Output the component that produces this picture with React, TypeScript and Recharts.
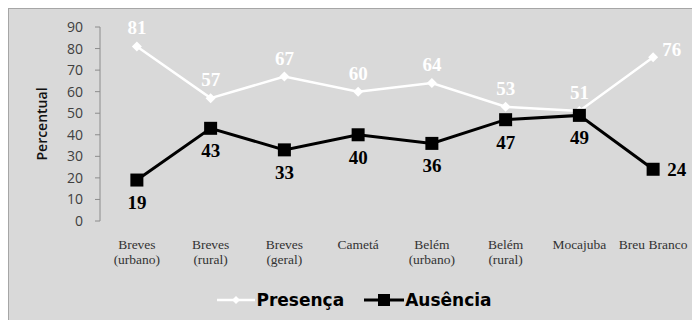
import { LineChart, Line, XAxis, YAxis, Legend, LabelList } from 'recharts';

const categories = ['Breves (urbano)', 'Breves (rural)', 'Breves (geral)', 'Cametá', 'Belém (urbano)', 'Belém (rural)', 'Mocajuba', 'Breu Branco'];
const presenca = [81, 57, 67, 60, 64, 53, 51, 76];
const ausencia = [19, 43, 33, 40, 36, 47, 49, 24];
const yTicks = [0, 10, 20, 30, 40, 50, 60, 70, 80, 90];
const boundaryTicks = [0, 1, 2, 3, 4, 5, 6, 7, 8];

const data = categories.map((name, i) => ({ name, presenca: presenca[i], ausencia: ausencia[i] }));

const SERIF = '"Liberation Serif", "Times New Roman", serif';
const SANS = '"Open Sans", "Liberation Sans", Arial, sans-serif';
const HEAVY = '"DejaVu Sans", Verdana, sans-serif';

const Diamond = (props: any) => {
  const { cx, cy, index } = props;
  if (cx == null || cy == null) return null;
  return <path key={`dm-${index}`} d={`M${cx} ${cy - 5}L${cx + 5} ${cy}L${cx} ${cy + 5}L${cx - 5} ${cy}Z`} fill="#fff" />;
};

const Square = (props: any) => {
  const { cx, cy, index } = props;
  if (cx == null || cy == null) return null;
  return <rect key={`sq-${index}`} x={cx - 6.5} y={cy - 6.5} width={13} height={13} fill="#000" />;
};

const last = categories.length - 1;

const topLabel = (p: any) => {
  const { x, y, value, index } = p;
  const isLast = index === last;
  return (
    <text x={isLast ? x + 9 : x} y={isLast ? y - 1 : y - 12} textAnchor={isLast ? 'start' : 'middle'}
      fill="#fff" fontFamily={SERIF} fontWeight="bold" fontSize={19}>
      {value}
    </text>
  );
};

const bottomLabel = (p: any) => {
  const { x, y, value, index } = p;
  const isLast = index === last;
  return (
    <text x={isLast ? x + 14 : x} y={isLast ? y + 7 : y + 29} textAnchor={isLast ? 'start' : 'middle'}
      fill="#000" fontFamily={SERIF} fontWeight="bold" fontSize={19}>
      {value}
    </text>
  );
};

const CatTick = (props: any) => {
  const { x, y, payload } = props;
  const parts = String(payload.value).split(' (');
  const lines = parts.length > 1 ? [parts[0], '(' + parts[1]] : parts;
  return (
    <g>
      {lines.map((t, i) => (
        <text key={i} x={x} y={y + 26 + i * 15} textAnchor="middle" fill="#333" fontFamily={SERIF} fontSize={13.5}>
          {t}
        </text>
      ))}
    </g>
  );
};

const LegendBox = () => (
  <div style={{ display: 'flex', justifyContent: 'center', alignItems: 'center', height: 30, paddingLeft: 10 }}>
    <svg width={38} height={14}>
      <line x1={0} y1={7} x2={38} y2={7} stroke="#fff" strokeWidth={2.5} />
      <path d="M19 3L23 7L19 11L15 7Z" fill="#fff" />
    </svg>
    <span style={{ fontFamily: HEAVY, fontWeight: 'bold', fontSize: 17, color: '#000', marginLeft: 1, marginRight: 20 }}>Presença</span>
    <svg width={40} height={14}>
      <line x1={0} y1={7} x2={40} y2={7} stroke="#000" strokeWidth={3} />
      <rect x={14} y={1} width={12} height={12} fill="#000" />
    </svg>
    <span style={{ fontFamily: HEAVY, fontWeight: 'bold', fontSize: 17, color: '#000', marginLeft: 1 }}>Ausência</span>
  </div>
);

export default function App() {
  return (
    <div style={{ width: 692, height: 312, boxSizing: 'border-box', borderTop: '1px solid #a6a6a6', borderLeft: '1px solid #a6a6a6', background: '#d9d9d9' }}>
      <LineChart width={691} height={311} data={data} margin={{ top: 18, right: 10, left: 0, bottom: 5 }}>
        <XAxis xAxisId="grid" type="number" domain={[0, 8]} ticks={boundaryTicks} tick={false} tickSize={5} height={0} stroke="#8c8c8c" />
        <XAxis xAxisId="cat" dataKey="name" scale="band" axisLine={false} tickLine={false} tickSize={0} tick={<CatTick />} height={64} interval={0} />
        <YAxis
          domain={[0, 90]}
          ticks={yTicks}
          interval={0}
          width={91}
          tickSize={5}
          tickMargin={12}
          stroke="#8c8c8c"
          tick={{ fill: '#404040', fontSize: 14, fontFamily: SANS }}
          label={{ value: 'Percentual', angle: -90, position: 'insideLeft', offset: 33, style: { textAnchor: 'middle', fill: '#111', fontSize: 14, fontWeight: 600, fontFamily: SANS } }}
        />
        <Legend verticalAlign="bottom" wrapperStyle={{ height: 30 }} content={() => <LegendBox />} />
        <Line xAxisId="cat" dataKey="presenca" name="Presença" stroke="#fff" strokeWidth={2.5} dot={<Diamond />} isAnimationActive={false}>
          <LabelList dataKey="presenca" content={topLabel} />
        </Line>
        <Line xAxisId="cat" dataKey="ausencia" name="Ausência" stroke="#000" strokeWidth={3} dot={<Square />} isAnimationActive={false}>
          <LabelList dataKey="ausencia" content={bottomLabel} />
        </Line>
      </LineChart>
    </div>
  );
}
